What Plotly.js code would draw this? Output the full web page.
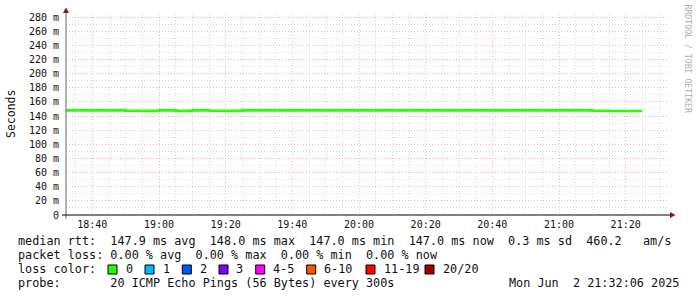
<!DOCTYPE html>
<html><head><meta charset="utf-8">
<script src="https://cdn.plot.ly/plotly-3.0.1.min.js"></script>
<style>html,body{margin:0;padding:0;background:#fff;}#chart{width:697px;height:297px;}</style>
</head><body><div id="chart"></div>
<script>
// ---- data ----
const times = ['18:30','18:35','18:40','18:45','18:50','18:55','19:00','19:05','19:10','19:15','19:20',
  '19:25','19:30','19:35','19:40','19:45','19:50','19:55','20:00','20:05','20:10','20:15','20:20','20:25',
  '20:30','20:35','20:40','20:45','20:50','20:55','21:00','21:05','21:10','21:15','21:20','21:25'];
const rtt = [147.9,147.9,147.9,147.9,147.5,147.2,148.0,147.3,147.9,147.5,147.3,
  147.9,147.9,147.9,147.9,147.9,147.9,147.9,147.9,147.9,147.9,147.9,147.9,147.9,
  147.9,147.9,147.9,147.9,147.9,147.9,147.9,147.9,147.5,147.0,147.0,147.0];
const yTickVals = [0,20,40,60,80,100,120,140,160,180,200,220,240,260,280];
const yTickText = ['0','20 m','40 m','60 m','80 m','100 m','120 m','140 m','160 m','180 m','200 m','220 m','240 m','260 m','280 m'];
const lossLabels = ['0','1','2','3','4-5','6-10','11-19','20/20'];
const lossColors = ['#26ff00','#00b8ff','#0059ff','#7e00ff','#ff00ff','#ff5500','#ff0000','#a10000'];
const legendLine1 = 'median rtt:  147.9 ms avg  148.0 ms max  147.0 ms min  147.0 ms now  0.3 ms sd  460.2   am/s';
const legendLine2 = 'packet loss: 0.00 % avg  0.00 % max  0.00 % min  0.00 % now';
const legendLine3 = 'loss color:';
const legendLine4 = 'probe:       20 ICMP Echo Pings (56 Bytes) every 300s';
const dateText = 'Mon Jun  2 21:32:06 2025';
const day = '2025-06-02 ';

// ---- geometry ----
const L = 66, T = 14, W = 602, H = 201, FW = 697, FH = 297;
const px = x => (x - L) / W;
const py = y => (T + H - y) / H;
const mono = 'DejaVu Sans Mono, monospace';

const trace = {
  x: times.map(t => day + t), y: rtt, type: 'scatter', mode: 'lines',
  line: {color: lossColors[0], width: 2.6, shape: 'hv'}, hoverinfo: 'skip'
};

const ann = [];
const shapes = [];
function txt(text, x, y, opts) {
  ann.push(Object.assign({text: text, x: px(x), y: py(y), xref: 'paper', yref: 'paper',
    showarrow: false, xanchor: 'left', yanchor: 'middle',
    font: {family: mono, size: 11.8, color: '#111'}}, opts || {}));
}
txt(legendLine1, 16, 241);
txt(legendLine2, 16, 255);
txt(legendLine3, 16, 269);
txt(legendLine4, 16, 283);
txt(dateText, 681, 283, {xanchor: 'right'});
const swX = [108, 145, 182.3, 219, 255.7, 306.7, 366, 425];
lossLabels.forEach((lab, i) => {
  shapes.push({type: 'rect', xref: 'paper', yref: 'paper', x0: px(swX[i]), x1: px(swX[i] + 9),
    y0: py(274), y1: py(265), fillcolor: lossColors[i], line: {color: '#000', width: 1}});
  txt(lab, swX[i] + 15.5, 269);
});
// y title
txt('Seconds', 11, 114, {textangle: -90, xanchor: 'center', font: {family: mono, size: 11.5, color: '#111'}});
// watermark
txt('RRDTOOL / TOBI OETIKER', 687.5, 59, {textangle: 90, xanchor: 'center', font: {family: mono, size: 8.2, color: '#b0b0b0'}});

// axes lines and arrows
shapes.push({type: 'line', xref: 'paper', yref: 'paper', x0: px(66), x1: px(66), y0: py(219), y1: py(12), line: {color: '#666', width: 1}});
shapes.push({type: 'line', xref: 'paper', yref: 'paper', x0: px(62), x1: px(671), y0: py(215), y1: py(215), line: {color: '#000', width: 1}});
shapes.push({type: 'path', xref: 'paper', yref: 'paper', fillcolor: '#8b1414', line: {width: 0},
  path: `M ${px(66)} ${py(7.5)} L ${px(63)} ${py(13)} L ${px(69)} ${py(13)} Z`});
shapes.push({type: 'path', xref: 'paper', yref: 'paper', fillcolor: '#8b1414', line: {width: 0},
  path: `M ${px(675.5)} ${py(215)} L ${px(670)} ${py(212)} L ${px(670)} ${py(218)} Z`});

const majorGrid = 'rgba(235,150,150,0.6)';
const minorGrid = 'rgba(205,205,205,0.7)';
const layout = {
  width: FW, height: FH, margin: {l: L, r: FW - L - W, t: T, b: FH - T - H},
  paper_bgcolor: '#ffffff', plot_bgcolor: '#ffffff', showlegend: false,
  xaxis: {
    type: 'date', range: [day + '18:32:06', day + '21:32:42'],
    tick0: day + '18:40', dtick: 1200000, tickformat: '%H:%M',
    showgrid: true, gridcolor: majorGrid, griddash: '1px,2px', gridwidth: 1,
    minor: {dtick: 300000, tick0: day + '18:40', showgrid: true, gridcolor: minorGrid, griddash: '1px,2px', gridwidth: 1},
    showline: false, zeroline: false, ticks: '', ticklabelstandoff: 2,
    tickfont: {family: mono, size: 10, color: '#111'}
  },
  yaxis: {
    range: [0, H / (198 / 280)], tickvals: yTickVals, ticktext: yTickText,
    showgrid: true, gridcolor: majorGrid, griddash: '1px,2px', gridwidth: 1,
    minor: {dtick: 10, tick0: 0, showgrid: true, gridcolor: minorGrid, griddash: '1px,2px', gridwidth: 1},
    showline: false, zeroline: false, ticks: '', ticklabelstandoff: 6,
    tickfont: {family: mono, size: 10, color: '#111'}
  },
  annotations: ann, shapes: shapes
};
Plotly.newPlot('chart', [trace], layout, {staticPlot: true, displayModeBar: false});
</script></body></html>
